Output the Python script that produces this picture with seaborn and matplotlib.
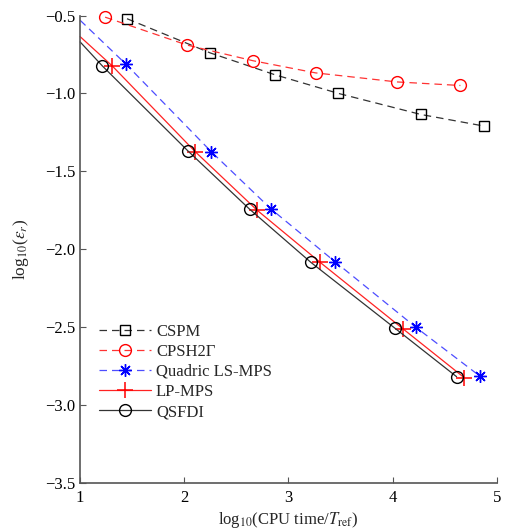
import matplotlib
matplotlib.use("Agg")
import matplotlib.pyplot as plt
import seaborn as sns

# Convergence data: log10(CPU time / T_ref) versus log10(error)
cspm_x = [1.45, 2.25, 2.87, 3.48, 4.27, 4.88]
cspm_y = [-0.52, -0.74, -0.88, -1.00, -1.135, -1.21]

cpsh_x = [1.24, 2.03, 2.66, 3.26, 4.04, 4.65]
cpsh_y = [-0.51, -0.69, -0.79, -0.868, -0.926, -0.949]

# the solid/dashed fits of the last three methods start at the left edge (x = 1)
quad_x = [1.0, 1.443, 2.26, 2.834, 3.447, 4.223, 4.836]
quad_y = [-0.53, -0.814, -1.375, -1.743, -2.081, -2.502, -2.815]

lp_x = [1.0, 1.308, 2.106, 2.697, 3.304, 4.101, 4.686]
lp_y = [-0.635, -0.823, -1.375, -1.749, -2.085, -2.513, -2.825]

qs_x = [1.0, 1.213, 2.033, 2.626, 3.215, 4.022, 4.613]
qs_y = [-0.669, -0.823, -1.368, -1.743, -2.085, -2.508, -2.819]

labels = ["CSPM", "CPSH2Γ", "Quadric LS-MPS", "LP-MPS", "QSFDI"]
x_ticks = [1, 2, 3, 4, 5]
y_ticks = [-3.5, -3.0, -2.5, -2.0, -1.5, -1.0, -0.5]

sns.set_theme(style="white")
plt.rcParams["font.family"] = ["Liberation Serif", "DejaVu Serif"]
plt.rcParams["mathtext.fontset"] = "stix"
plt.rcParams["axes.unicode_minus"] = True

fig = plt.figure(figsize=(5.07, 5.32), dpi=100)
ax = fig.add_axes([0.158, 0.0927, 0.822, 0.878])

dash = (0, (6, 4))
common = dict(ax=ax, sort=False, estimator=None, clip_on=False, lw=0.9)

sns.lineplot(x=cspm_x, y=cspm_y, color="#333333", linestyle=dash,
             marker="s", markersize=7, markerfacecolor="none",
             markeredgecolor="black", markeredgewidth=1.0,
             label=labels[0], **common)
sns.lineplot(x=cpsh_x, y=cpsh_y, color="#ff3333", linestyle=dash,
             marker="o", markersize=8.5, markerfacecolor="none",
             markeredgecolor="red", markeredgewidth=1.0,
             label=labels[1], **common)
sns.lineplot(x=quad_x, y=quad_y, color="#4d4dff", linestyle=dash,
             marker=(8, 2, 0), markersize=9, markevery=list(range(1, 7)),
             markeredgecolor="blue", markeredgewidth=1.0,
             label=labels[2], **common)
sns.lineplot(x=lp_x, y=lp_y, color="#ff2222", linestyle="-",
             marker="+", markersize=12, markevery=list(range(1, 7)),
             markeredgecolor="red", markeredgewidth=1.1,
             label=labels[3], **common)
sns.lineplot(x=qs_x, y=qs_y, color="#333333", linestyle="-",
             marker="o", markersize=8.5, markevery=list(range(1, 7)),
             markerfacecolor="none", markeredgecolor="black",
             markeredgewidth=1.0, label=labels[4], **common)

ax.set_xlim(1, 5)
ax.set_ylim(-3.5, -0.5)
ax.set_xticks(x_ticks)
ax.set_xticklabels([str(t) for t in x_ticks])
ax.set_yticks(y_ticks)
ax.set_yticklabels([f"{t:.1f}".replace("-", "\u2212") for t in y_ticks])

for side in ("top", "right"):
    ax.spines[side].set_visible(False)
for side in ("left", "bottom"):
    ax.spines[side].set_color("#555555")
    ax.spines[side].set_linewidth(1.2)

ax.tick_params(direction="in", length=4, width=0.8, colors="#555555",
               labelcolor="black", labelsize=12, left=True, bottom=True)
ax.tick_params(axis="x", pad=5)

ax.set_xlabel(r"log$_{10}$(CPU time/$T_{\rm ref}$)", fontsize=12, labelpad=3)
ax.set_ylabel(r"log$_{10}$($\epsilon_r$)", fontsize=12.5, labelpad=10)

ax.legend(loc="upper left", bbox_to_anchor=(0.03, 0.355), frameon=False,
          fontsize=12, handlelength=3.1, handletextpad=0.3,
          labelspacing=0.25, borderaxespad=0)

fig.savefig("out.png", dpi=100)
